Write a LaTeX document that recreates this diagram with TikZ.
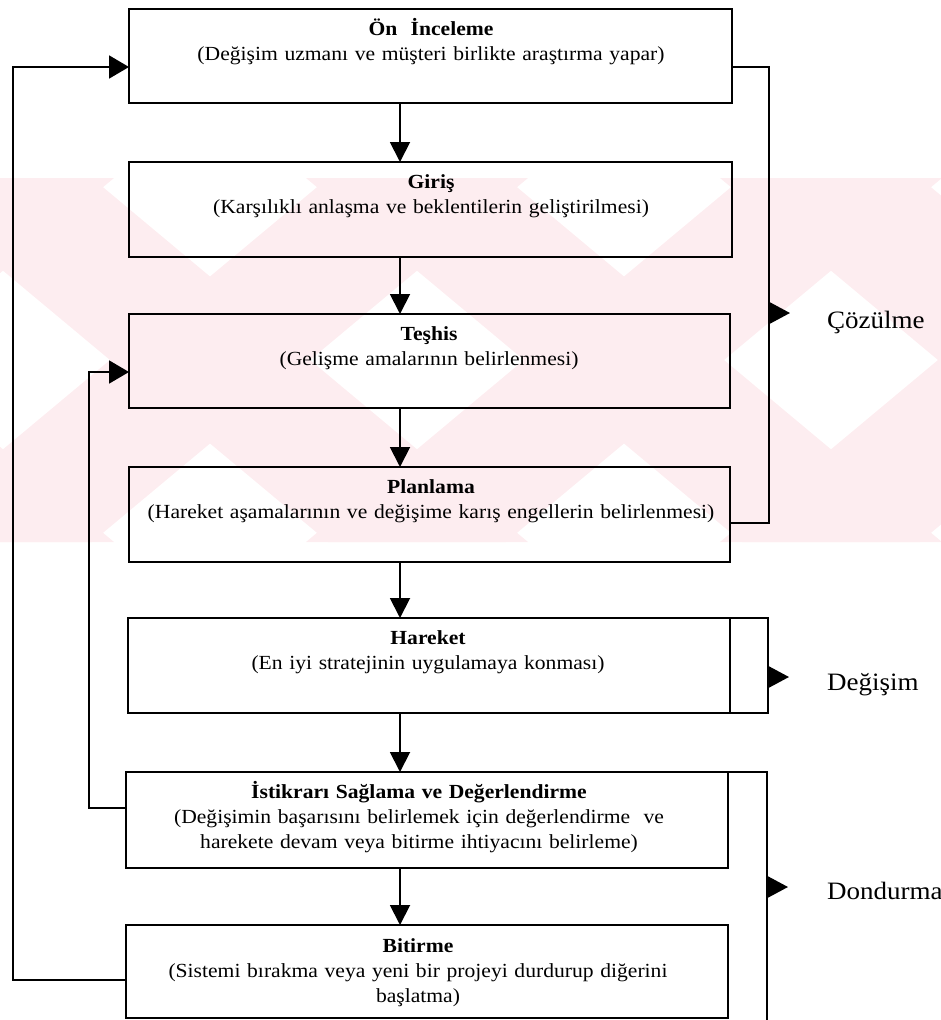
\documentclass[tikz,border=0pt]{standalone}
\usepackage{fontspec}
\setmainfont{Liberation Serif}[FakeStretch=1.08]
\usetikzlibrary{arrows.meta}
\definecolor{wmpink}{RGB}{253,237,240}

\begin{document}
\begin{tikzpicture}[x=1pt,y=-1pt,
  stagebox/.style={draw, line width=2.3pt, rectangle, inner sep=0pt, outer sep=0pt},
  stagetext/.style={anchor=base, inner sep=0pt, text width=660pt, align=center,
    font=\fontsize{20}{25}\selectfont},
  phase/.style={anchor=base west, inner sep=0pt, font=\fontsize{25}{30}\selectfont},
  link/.style={line width=1.9pt},
  down/.style={link, -{Triangle[length=20pt,width=20pt]}},
  back/.style={link, -{Triangle[length=20pt,width=23pt]}},
  marker/.style={link, -{Triangle[length=21pt,width=22pt]}},
]
\useasboundingbox (0,0) rectangle (941,1020);

% faint background band pattern (crossed diagonal bands)
\begin{scope}
  \clip (0,178) rectangle (941,542);
  \foreach \c in {-204,210,624,1038}{
    \fill[wmpink] (\c-318,178) -- (\c-118,178) -- (\c+318,542) -- (\c+118,542) -- cycle;
    \fill[wmpink] (\c+118,178) -- (\c+318,178) -- (\c-118,542) -- (\c-318,542) -- cycle;
  }
\end{scope}

% stage boxes
\node[stagebox, minimum width=603pt, minimum height=94pt] (b1) at (430.5,56) {};
\node[stagebox, minimum width=603pt, minimum height=95pt] (b2) at (430.5,209.5) {};
\node[stagebox, minimum width=601pt, minimum height=94pt] (b3) at (429.5,361) {};
\node[stagebox, minimum width=601pt, minimum height=95pt] (b4) at (429.5,514.5) {};
\node[stagebox, minimum width=602pt, minimum height=95pt] (b5) at (429,665.5) {};
\node[stagebox, minimum width=602pt, minimum height=96pt] (b6) at (427,820) {};
\node[stagebox, minimum width=602pt, minimum height=93pt] (b7) at (427,971.5) {};

% stage texts
\node[stagetext] (t1) at (431,35) {\textbf{Ön~~İnceleme}\\(Değişim uzmanı ve müşteri birlikte araştırma yapar)};
\node[stagetext] (t2) at (431,188) {\textbf{Giriş}\\(Karşılıklı anlaşma ve beklentilerin geliştirilmesi)};
\node[stagetext] (t3) at (429,340) {\textbf{Teşhis}\\(Gelişme amalarının belirlenmesi)};
\node[stagetext] (t4) at (431,493) {\textbf{Planlama}\\(Hareket aşamalarının ve değişime karış engellerin belirlenmesi)};
\node[stagetext] (t5) at (428,644) {\textbf{Hareket}\\(En iyi stratejinin uygulamaya konması)};
\node[stagetext] (t6) at (419,798) {\textbf{İstikrarı Sağlama ve Değerlendirme}\\(Değişimin başarısını belirlemek için değerlendirme~~ve\\harekete devam veya bitirme ihtiyacını belirleme)};
\node[stagetext] (t7) at (418,952) {\textbf{Bitirme}\\(Sistemi bırakma veya yeni bir projeyi durdurup diğerini\\başlatma)};

% main flow
\coordinate (ax) at (400,0);
\draw[down] (b1.south -| ax) -- (b2.north -| ax);
\draw[down] (b2.south -| ax) -- (b3.north -| ax);
\draw[down] (b3.south -| ax) -- (b4.north -| ax);
\draw[down] (b4.south -| ax) -- (b5.north -| ax);
\draw[down] (b5.south -| ax) -- (b6.north -| ax);
\draw[down] (b6.south -| ax) -- (b7.north -| ax);

% feedback loops on the left
\draw[back] (b7.west |- 0,980) -- (13,980) -- (13,67) -- (b1.west |- 0,67);
\draw[back] (b6.west |- 0,808) -- (89,808) -- (89,372) -- (b3.west |- 0,372);

% phase brackets on the right
\draw[link] (b1.east |- 0,67) -- (769,67) -- (769,523) -- (b4.east |- 0,523);
\coordinate (m1) at (769,313);
\draw[marker] (m1) -- ++(21,0);
\node[phase] (p1) at (827,328) {Çözülme};

\draw[link] (b5.north east) -- (768,618) -- (768,713) -- (b5.south east);
\coordinate (m2) at (768,677);
\draw[marker] (m2) -- ++(21,0);
\node[phase] (p2) at (827,690) {Değişim};

\coordinate (dend) at (767,1020);
\draw[link] (b6.north east) -- (767,772) -- (dend);
\coordinate (m3) at (767,887);
\draw[marker] (m3) -- ++(21,0);
\node[phase] (p3) at (827,899) {Dondurma};
\end{tikzpicture}
\end{document}
